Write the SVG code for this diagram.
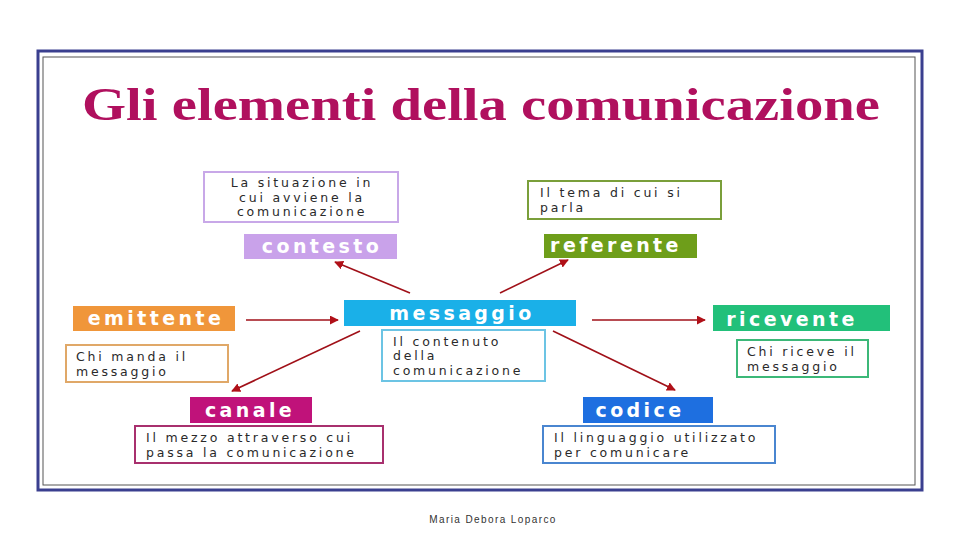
<svg xmlns="http://www.w3.org/2000/svg" width="960" height="540" viewBox="0 0 960 540">
<defs>
<marker id="ah" viewBox="0 0 10 10" refX="9" refY="5" markerWidth="9" markerHeight="9" markerUnits="userSpaceOnUse" orient="auto">
<path d="M0,0 L10,5 L0,10 z" fill="#B01018"/>
</marker>
<style>
.lbl{font-family:"DejaVu Sans",Verdana,sans-serif;font-weight:bold;font-size:19px;fill:#fff;letter-spacing:3.4px;text-anchor:middle}
.d{font-family:"DejaVu Sans",Verdana,sans-serif;font-size:12.5px;fill:#2a2a2a;letter-spacing:2.8px}
.dc{text-anchor:middle}
.box{fill:#fff;stroke-width:2}
.con{stroke:#A01018;stroke-width:1.6;fill:none;marker-end:url(#ah)}
</style>
</defs>
<rect width="960" height="540" fill="#fff"/>
<rect x="38" y="51" width="884" height="439" fill="none" stroke="#3A3F8F" stroke-width="3"/>
<rect x="43" y="57" width="872" height="428" fill="none" stroke="#555" stroke-width="1"/>
<text x="82" y="120" font-family="'Liberation Serif','Times New Roman',serif" font-weight="bold" font-size="46" fill="#B0105E" textLength="798" lengthAdjust="spacingAndGlyphs">Gli elementi della comunicazione</text>

<g id="connectors">
<line class="con" x1="246" y1="320" x2="338" y2="320"/>
<line class="con" x1="592" y1="320" x2="705" y2="320"/>
<line class="con" x1="410" y1="293" x2="335" y2="262"/>
<line class="con" x1="500" y1="293" x2="568" y2="260"/>
<line class="con" x1="360" y1="331" x2="232" y2="391"/>
<line class="con" x1="553" y1="331" x2="675" y2="390"/>
</g>

<g id="contesto">
<rect class="box" x="204" y="172" width="194" height="50" stroke="#C8A8E8"/>
<text class="d dc" x="302" y="187">La situazione in</text>
<text class="d dc" x="302" y="201.7">cui avviene la</text>
<text class="d dc" x="302" y="216.4">comunicazione</text>
<rect x="244" y="234" width="153" height="25" fill="#C9A2EA"/>
<text class="lbl" x="322" y="253">contesto</text>
</g>

<g id="referente">
<rect class="box" x="528" y="181" width="193" height="38" stroke="#7A9F3A"/>
<text class="d" x="540" y="197">Il tema di cui si</text>
<text class="d" x="540" y="212">parla</text>
<rect x="544" y="234" width="153" height="24" fill="#6E9E1A"/>
<text class="lbl" x="616" y="252">referente</text>
</g>

<g id="emittente">
<rect x="73" y="306" width="162" height="25" fill="#F0963A"/>
<text class="lbl" x="156" y="325">emittente</text>
<rect class="box" x="66" y="345" width="162" height="37" stroke="#E0A868"/>
<text class="d" x="76" y="361">Chi manda il</text>
<text class="d" x="76" y="376">messaggio</text>
</g>

<g id="messaggio">
<rect x="344" y="300" width="232" height="26" fill="#1AB0E8"/>
<text class="lbl" x="462" y="320">messaggio</text>
<rect class="box" x="382" y="330" width="163" height="51" stroke="#6CC4E4"/>
<text class="d" x="393" y="345.5">Il contenuto</text>
<text class="d" x="393" y="360.2">della</text>
<text class="d" x="393" y="374.9">comunicazione</text>
</g>

<g id="ricevente">
<rect x="713" y="305" width="177" height="26" fill="#22C07A"/>
<text class="lbl" x="792" y="326">ricevente</text>
<rect class="box" x="737" y="340" width="131" height="37" stroke="#3CB878"/>
<text class="d" x="747" y="356">Chi riceve il</text>
<text class="d" x="747" y="371">messaggio</text>
</g>

<g id="canale">
<rect x="190" y="397" width="122" height="26" fill="#C0127A"/>
<text class="lbl" x="250" y="417">canale</text>
<rect class="box" x="135" y="426" width="248" height="37" stroke="#A8306E"/>
<text class="d" x="146" y="442">Il mezzo attraverso cui</text>
<text class="d" x="146" y="457">passa la comunicazione</text>
</g>

<g id="codice">
<rect x="583" y="397" width="130" height="26" fill="#1E6FE0"/>
<text class="lbl" x="640" y="417">codice</text>
<rect class="box" x="543" y="426" width="232" height="37" stroke="#4A86D0"/>
<text class="d" x="554" y="442">Il linguaggio utilizzato</text>
<text class="d" x="554" y="457">per comunicare</text>
</g>

<text x="493" y="523" font-family="'Liberation Sans',Arial,sans-serif" font-size="10" fill="#333" letter-spacing="1.4" text-anchor="middle">Maria Debora Loparco</text>
</svg>
